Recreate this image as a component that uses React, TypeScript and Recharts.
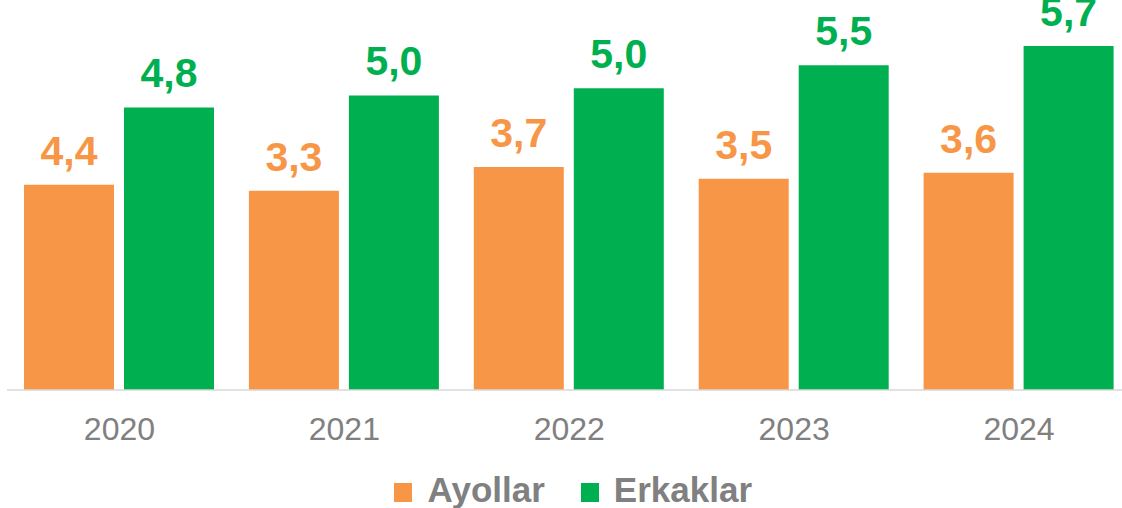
import { Bar, BarChart, LabelList, Legend, XAxis, YAxis } from "recharts";

const years = ["2020", "2021", "2022", "2023", "2024"];
// bar heights as drawn in the picture
const ayollar = [3.45, 3.35, 3.75, 3.55, 3.65];
const erkaklar = [4.75, 4.95, 5.07, 5.46, 5.78];
// value labels as printed above the bars
const ayollarLabels = ["4,4", "3,3", "3,7", "3,5", "3,6"];
const erkaklarLabels = ["4,8", "5,0", "5,0", "5,5", "5,7"];

const ORANGE = "#F79646";
const GREEN = "#00B050";
const GRAY = "#808080";
const FONT = '"Liberation Sans", Arial, sans-serif';

const data = years.map((year, i) => ({
  year,
  ayollar: ayollar[i],
  erkaklar: erkaklar[i],
}));

const SERIES = [
  { key: "ayollar", name: "Ayollar", color: ORANGE, labels: ayollarLabels },
  { key: "erkaklar", name: "Erkaklar", color: GREEN, labels: erkaklarLabels },
];

function makeLabel(labels: string[], color: string) {
  return (props: any) => {
    const { x, y, width, index } = props;
    return (
      <text
        x={Number(x) + Number(width) / 2}
        y={Number(y) - 20}
        textAnchor="middle"
        fill={color}
        fontFamily={FONT}
        fontWeight="bold"
        fontSize={41}
      >
        {labels[index]}
      </text>
    );
  };
}

function LegendContent() {
  return (
    <div
      style={{
        display: "flex",
        justifyContent: "center",
        alignItems: "center",
        gap: 36,
        height: 40,
        lineHeight: "40px",
        paddingTop: 4,
        paddingLeft: 8,
        boxSizing: "border-box",
        fontFamily: FONT,
        fontWeight: "bold",
        fontSize: 35,
        color: GRAY,
      }}
    >
      {SERIES.map((s) => (
        <span key={s.key} style={{ display: "inline-flex", alignItems: "center", gap: 15 }}>
          <span
            style={{
              display: "inline-block",
              width: 18,
              height: 19,
              marginTop: 4,
              backgroundColor: s.color,
            }}
          />
          {s.name}
        </span>
      ))}
    </div>
  );
}

export default function App() {
  return (
    <div
      style={{
        position: "fixed",
        left: 0,
        top: 0,
        width: 1122,
        height: 508,
        overflow: "hidden",
        background: "#fff",
      }}
    >
      <BarChart
        width={1140}
        height={508}
        data={data}
        margin={{ top: 0, right: 8.5, bottom: 0, left: 7 }}
        barCategoryGap={17}
        barGap={10}
      >
        <XAxis
          dataKey="year"
          height={78}
          tickLine={false}
          tickSize={0}
          tickMargin={27}
          axisLine={{ stroke: "#D9D9D9", strokeWidth: 1.5 }}
          tick={{ fill: GRAY, fontSize: 32, fontFamily: FONT }}
        />
        <YAxis hide domain={[0, 6.555]} allowDataOverflow />
        <Legend
          verticalAlign="bottom"
          height={40}
          content={<LegendContent />}
        />
        {SERIES.map((s) => (
          <Bar
            key={s.key}
            dataKey={s.key}
            name={s.name}
            fill={s.color}
            isAnimationActive={false}
          >
            <LabelList dataKey={s.key} content={makeLabel(s.labels, s.color)} />
          </Bar>
        ))}
      </BarChart>
    </div>
  );
}
